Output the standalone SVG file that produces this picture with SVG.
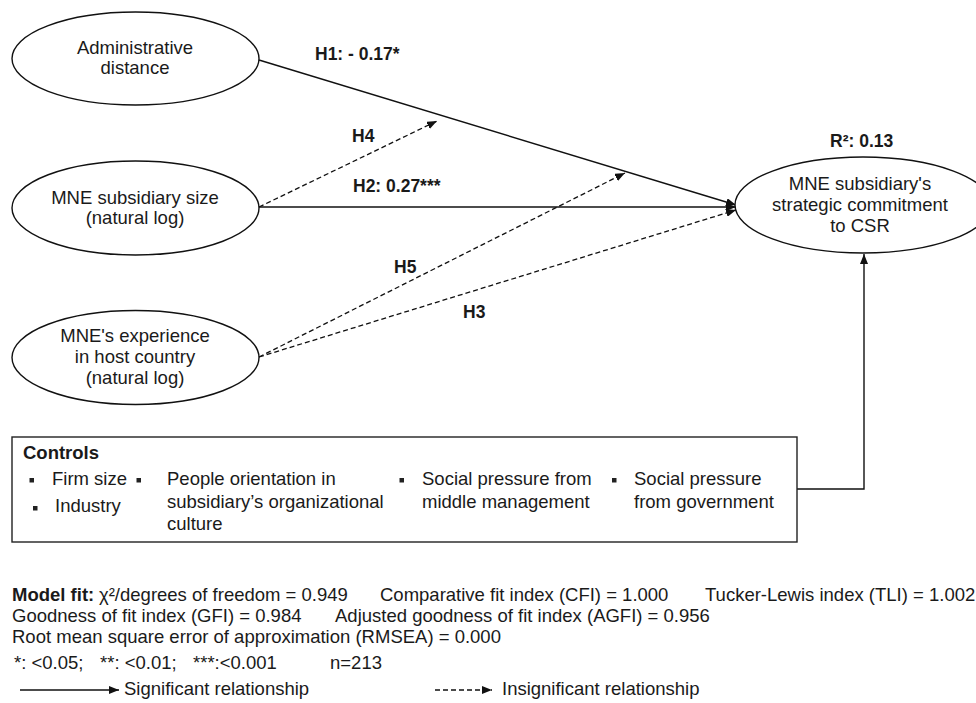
<svg xmlns="http://www.w3.org/2000/svg" width="976" height="703" viewBox="0 0 976 703">
<style>
text{font-family:"Liberation Sans",Arial,sans-serif;fill:#1a1a1a}
.n{font-size:18.5px}
.nc{font-size:18.5px;text-anchor:middle}
.b{font-size:17.5px;font-weight:bold}
.node{fill:#fff;stroke:#111;stroke-width:1.4}
.sol{stroke:#111;stroke-width:1.4;fill:none}
.dash{stroke:#111;stroke-width:1.3;fill:none;stroke-dasharray:5 3}
.bul{fill:#222}
</style>
<defs>
<marker id="ah" viewBox="0 0 10 8" refX="10" refY="4" markerWidth="10" markerHeight="8" orient="auto" markerUnits="userSpaceOnUse"><path d="M0,0 L10,4 L0,8 z" fill="#111"/></marker>
</defs>
<rect width="976" height="703" fill="#fff"/>
<g id="connectors">
<path class="sol" d="M259,60 L736,205" marker-end="url(#ah)"/>
<path class="sol" d="M259,207 L736,207" marker-end="url(#ah)"/>
<path class="dash" d="M259,357 L736,210" marker-end="url(#ah)"/>
<path class="dash" d="M259,207 L437,121" marker-end="url(#ah)"/>
<path class="dash" d="M259,357 L625,173" marker-end="url(#ah)"/>
<path class="sol" d="M797,489 H864 V254" marker-end="url(#ah)"/>
</g>
<g id="labels">
<text class="b" x="315" y="60">H1: - 0.17*</text>
<text class="b" x="352" y="142">H4</text>
<text class="b" x="353" y="192">H2: 0.27***</text>
<text class="b" x="830" y="147">R²: 0.13</text>
<text class="b" x="394" y="273">H5</text>
<text class="b" x="463" y="318">H3</text>
</g>
<g id="admin">
<ellipse class="node" cx="135.5" cy="58.5" rx="123.5" ry="46.5"/>
<text class="nc" x="135" y="54">Administrative</text>
<text class="nc" x="135" y="74">distance</text>
</g>
<g id="size">
<ellipse class="node" cx="135.5" cy="208" rx="123.5" ry="47"/>
<text class="nc" x="135" y="204">MNE subsidiary size</text>
<text class="nc" x="135" y="224">(natural log)</text>
</g>
<g id="experience">
<ellipse class="node" cx="135.5" cy="357.5" rx="123.5" ry="47"/>
<text class="nc" x="135" y="342">MNE's experience</text>
<text class="nc" x="135" y="363">in host country</text>
<text class="nc" x="135" y="384">(natural log)</text>
</g>
<g id="csr">
<ellipse class="node" cx="863" cy="205" rx="128" ry="48"/>
<text class="nc" x="860" y="190">MNE subsidiary's</text>
<text class="nc" x="860" y="211">strategic commitment</text>
<text class="nc" x="860" y="232">to CSR</text>
</g>
<g id="controls">
<rect x="12" y="437" width="785" height="105" fill="#fff" stroke="#222" stroke-width="1.4"/>
<text x="23" y="459" style="font-size:18.5px;font-weight:bold">Controls</text>
<rect class="bul" x="29.5" y="478" width="4.5" height="4.5"/>
<rect class="bul" x="136.5" y="478" width="4.5" height="4.5"/>
<rect class="bul" x="33" y="506" width="4.5" height="4.5"/>
<rect class="bul" x="399.5" y="478" width="4.5" height="4.5"/>
<rect class="bul" x="612" y="478" width="4.5" height="4.5"/>
<text class="n" x="52" y="485">Firm size</text>
<text class="n" x="55" y="512">Industry</text>
<text class="n" x="167" y="485">People orientation in</text>
<text class="n" x="167" y="508">subsidiary’s organizational</text>
<text class="n" x="167" y="530">culture</text>
<text class="n" x="422" y="485">Social pressure from</text>
<text class="n" x="422" y="508">middle management</text>
<text class="n" x="634" y="485">Social pressure</text>
<text class="n" x="634" y="508">from government</text>
</g>
<g id="notes">
<text x="12" y="601" style="font-size:18.5px;font-weight:bold">Model fit:</text>
<text class="n" x="99" y="601">χ²/degrees of freedom = 0.949</text>
<text class="n" x="380" y="601">Comparative fit index (CFI) = 1.000</text>
<text class="n" x="705" y="601">Tucker-Lewis index (TLI) = 1.002</text>
<text class="n" x="12" y="622">Goodness of fit index (GFI) = 0.984</text>
<text class="n" x="335" y="622">Adjusted goodness of fit index (AGFI) = 0.956</text>
<text class="n" x="12" y="643">Root mean square error of approximation (RMSEA) = 0.000</text>
<text class="n" x="14" y="669">*: &lt;0.05;</text>
<text class="n" x="100" y="669">**: &lt;0.01;</text>
<text class="n" x="193" y="669">***:&lt;0.001</text>
<text class="n" x="330" y="669">n=213</text>
</g>
<g id="legend">
<path class="sol" d="M20,690 H119" marker-end="url(#ah)"/>
<text class="n" x="124" y="695">Significant relationship</text>
<path class="dash" d="M435,690 H492" marker-end="url(#ah)"/>
<text class="n" x="502" y="695">Insignificant relationship</text>
</g>
</svg>
